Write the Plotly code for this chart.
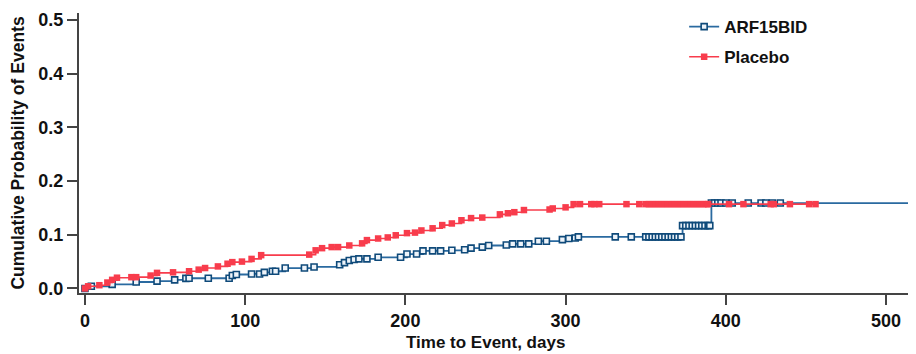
import plotly.graph_objects as go

# ---------------- data ----------------
arf_days = [0, 4, 17, 32, 45, 56, 63, 65, 77, 90, 92, 94.5, 104, 109, 112, 117, 119, 125, 137, 143,
            159, 162, 165, 168, 171, 176, 183, 197, 201, 207, 211, 217, 222, 229, 237, 241, 248, 252,
            263, 267, 272, 277, 283, 288, 298, 302, 306, 308, 331, 341,
            350, 352, 354, 356, 358, 360, 362, 364, 366, 368, 370, 372,
            373, 375, 377, 379, 381, 383, 385, 387, 389, 390,
            391, 393, 395, 397, 400, 404, 414, 422, 425, 429, 434, 517]
arf_prob = [0.0, 0.004, 0.0075, 0.012, 0.0136, 0.016, 0.0187, 0.019, 0.019, 0.019, 0.024, 0.026, 0.027, 0.027,
            0.030, 0.032, 0.032, 0.038, 0.038, 0.040,
            0.044, 0.048, 0.052, 0.054, 0.055, 0.055, 0.058, 0.058, 0.064, 0.064, 0.070, 0.070, 0.070, 0.071,
            0.072, 0.075, 0.077, 0.080,
            0.081, 0.083, 0.083, 0.083, 0.088, 0.088, 0.091, 0.093, 0.094, 0.096, 0.096, 0.096,
            0.096, 0.096, 0.096, 0.096, 0.096, 0.096, 0.096, 0.096, 0.096, 0.096, 0.096, 0.096,
            0.117, 0.117, 0.117, 0.117, 0.117, 0.117, 0.117, 0.117, 0.117, 0.117,
            0.159, 0.159, 0.159, 0.159, 0.159, 0.159, 0.159, 0.159, 0.159, 0.159, 0.159, 0.159]

pla_days = [0, 2, 9, 14, 17, 20, 29, 32, 41, 45, 55, 65, 71, 75, 83, 89, 92, 98, 104, 110,
            140, 144, 148, 154, 158, 165, 173, 176, 183, 189, 194, 201, 206, 210, 217, 223, 229,
            235, 241, 248, 259, 264, 268, 274, 290, 292, 300, 305,
            309, 316, 318, 321, 338, 346, 350, 352, 354, 356, 358, 360, 362, 364, 366, 368, 370,
            372, 374, 376, 378, 380, 382, 384, 386, 388, 389, 402, 411, 428, 430, 440, 452, 456]
pla_prob = [0.0, 0.004, 0.006, 0.011, 0.016, 0.020, 0.021, 0.021, 0.024, 0.029, 0.030, 0.032, 0.035,
            0.038, 0.041, 0.046, 0.049, 0.050, 0.055, 0.062,
            0.063, 0.071, 0.075, 0.077, 0.077, 0.080, 0.084, 0.090, 0.093, 0.095, 0.099, 0.103, 0.104,
            0.108, 0.112, 0.118, 0.121,
            0.127, 0.131, 0.132, 0.138, 0.140, 0.142, 0.146, 0.147, 0.149, 0.151, 0.157,
            0.157, 0.157, 0.157, 0.157, 0.157, 0.157, 0.157, 0.157, 0.157, 0.157, 0.157, 0.157, 0.157,
            0.157, 0.157, 0.157, 0.157,
            0.157, 0.157, 0.157, 0.157, 0.157, 0.157, 0.157, 0.157, 0.157, 0.157, 0.157, 0.157, 0.157,
            0.157, 0.157, 0.157, 0.157]

x_ticks = [0, 100, 200, 300, 400, 500]
y_ticks = [0.0, 0.1, 0.2, 0.3, 0.4, 0.5]
y_tick_labels = ["0.0", "0.1", "0.2", "0.3", "0.4", "0.5"]
x_title = "Time to Event, days"
y_title = "Cumulative Probability of Events"

# ---------------- figure ----------------
FONT = "Liberation Sans, Arial, Helvetica, sans-serif"
BLUE_LINE = "#2a6aa0"
BLUE_MARK = "#0f4a7a"
RED = "#f83c4c"

fig = go.Figure()
fig.add_trace(go.Scatter(
    x=arf_days, y=arf_prob, name="ARF15BID", mode="lines+markers",
    line=dict(color=BLUE_LINE, width=1.8, shape="hv"),
    marker=dict(symbol="square", size=6, color="#eef4fa",
                line=dict(color=BLUE_MARK, width=1.6)),
    legendgroup="a",
))
fig.add_trace(go.Scatter(
    x=pla_days, y=pla_prob, name="Placebo", mode="lines+markers",
    line=dict(color=RED, width=1.6, shape="hv"),
    marker=dict(symbol="square", size=6.5, color=RED, line=dict(width=0)),
    legendgroup="b",
))

axis_common = dict(
    showgrid=False, zeroline=False, showline=True, linecolor="#444", linewidth=2,
    ticks="outside", ticklen=10, tickwidth=2, tickcolor="#444", automargin=False,
    tickfont=dict(family=FONT, size=18, color="#111", weight="bold"),
)

# the page body has an 8px margin, so the figure is sized to fit the 916x354 window
fig.update_layout(
    width=908, height=346,
    margin=dict(l=71, r=0, t=5, b=61),
    paper_bgcolor="white", plot_bgcolor="white",
    font=dict(family=FONT),
    xaxis=dict(range=[-3.7, 518.7], tickvals=x_ticks, **axis_common),
    yaxis=dict(range=[-0.0085, 0.513], tickvals=y_ticks, ticktext=y_tick_labels,
               title=dict(text=y_title,
                          font=dict(family=FONT, size=17.5, color="#111", weight="bold"),
                          standoff=12),
               **axis_common),
    legend=dict(x=0.723, y=1.014, xanchor="left", yanchor="top",
                font=dict(family=FONT, size=17, color="#111", weight="bold"),
                bgcolor="rgba(0,0,0,0)", tracegroupgap=5),
    showlegend=True,
)

# x-axis title, centred under the 0-500 span as in the original
fig.add_annotation(
    text=x_title, xref="x", yref="paper", x=250, y=0, yanchor="top",
    yshift=-38, showarrow=False,
    font=dict(family=FONT, size=17, color="#111", weight="bold"),
)

fig.write_html("out.html")
